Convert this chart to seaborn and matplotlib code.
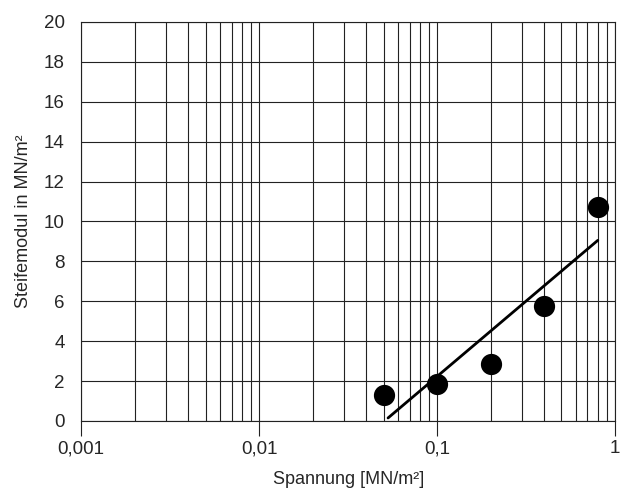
import matplotlib
matplotlib.use("Agg")
import matplotlib.pyplot as plt
import seaborn as sns
import pandas as pd
import numpy as np
from matplotlib.ticker import FixedLocator, FixedFormatter, NullFormatter, LogLocator

# data
spannung = [0.05, 0.1, 0.2, 0.4, 0.8]
steifemodul = [1.3, 1.85, 2.85, 5.75, 10.7]
trend_x = [0.053, 0.8]
trend_y = [0.15, 9.05]
x_ticks = [0.001, 0.01, 0.1, 1]
x_ticklabels = ["0,001", "0,01", "0,1", "1"]
y_ticks = list(range(0, 21, 2))

sns.set_style("white")
plt.rcParams['font.family'] = ['Liberation Sans', 'DejaVu Sans']

fig, ax = plt.subplots(figsize=(6.2, 4.97), dpi=100)
fig.subplots_adjust(left=0.131, right=0.992, top=0.956, bottom=0.153)

df = pd.DataFrame({"x": spannung, "y": steifemodul})
tr = pd.DataFrame({"x": trend_x, "y": trend_y})

ax.set_xscale("log")
sns.lineplot(data=tr, x="x", y="y", ax=ax, color="black", linewidth=2.0, zorder=3)
sns.scatterplot(data=df, x="x", y="y", ax=ax, color="black", s=200, edgecolor="black", zorder=4)

ax.set_xlim(0.001, 1)
ax.set_ylim(0, 20)

ax.xaxis.set_major_locator(FixedLocator(x_ticks))
ax.xaxis.set_major_formatter(FixedFormatter(x_ticklabels))
ax.xaxis.set_minor_locator(LogLocator(base=10, subs=np.arange(2, 10)))
ax.xaxis.set_minor_formatter(NullFormatter())
ax.set_yticks(y_ticks)

ax.grid(True, which="major", axis="both", color="#222222", linewidth=0.8)
ax.grid(True, which="minor", axis="x", color="#222222", linewidth=0.8)

ax.tick_params(axis="x", which="major", length=11, width=0.8, color="#222222", labelsize=13.5, pad=3, direction="out", bottom=True)
ax.tick_params(axis="x", which="minor", length=0)
ax.tick_params(axis="y", which="major", length=0, labelsize=13.5, pad=12)

for s in ax.spines.values():
    s.set_color("#222222")
    s.set_linewidth(0.8)

ax.set_xlabel("Spannung [MN/m²]", fontsize=13, labelpad=10)
ax.set_ylabel("Steifemodul in MN/m²", fontsize=13, labelpad=8)

fig.savefig("out.png", dpi=100)
